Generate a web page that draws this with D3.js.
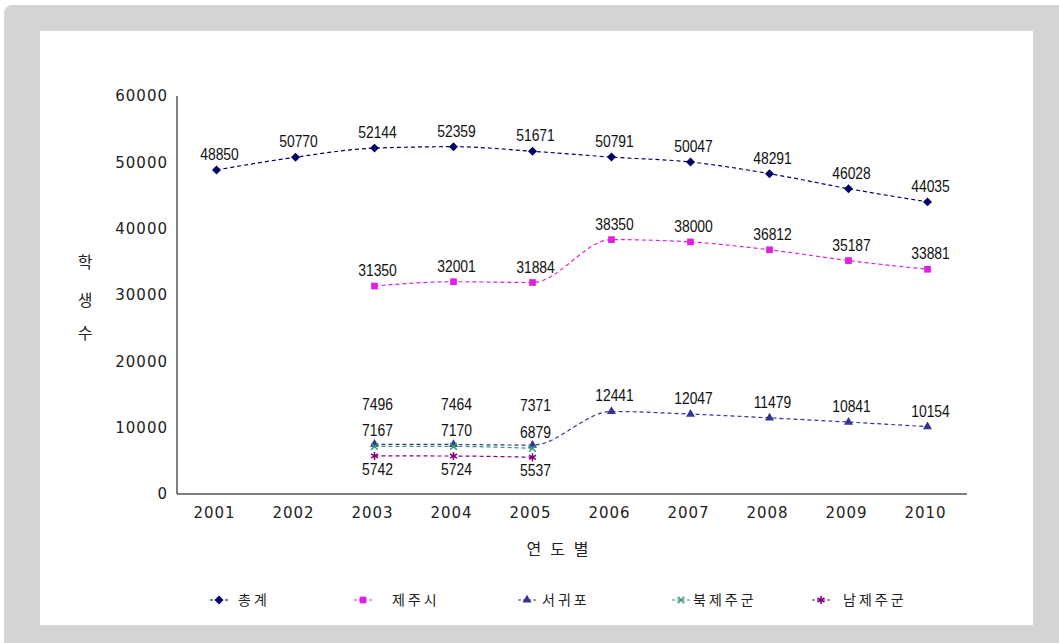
<!DOCTYPE html>
<html>
<head>
<meta charset="utf-8">
<script src="https://cdn.jsdelivr.net/npm/d3@7"></script>
<style>
  html, body { margin:0; padding:0; background:#fff; }
  svg { display:block; }
</style>
</head>
<body>
<div id="chart"></div>
<script>
// 학생수 추이 (연도별) - line chart
const years = ['2001','2002','2003','2004','2005','2006','2007','2008','2009','2010'];
const total    = [48850, 50770, 52144, 52359, 51671, 50791, 50047, 48291, 46028, 44035];
const jejuCity = [null, null, 31350, 32001, 31884, 38350, 38000, 36812, 35187, 33881];
const seogwipo = [null, null, 7496, 7464, 7371, 12441, 12047, 11479, 10841, 10154];
const bukjeju  = [null, null, 7167, 7170, 6879, null, null, null, null, null];
const namjeju  = [null, null, 5742, 5724, 5537, null, null, null, null, null];
const yTicks = [0, 10000, 20000, 30000, 40000, 50000, 60000];
const seriesNames = ['총계', '제주시', '서귀포', '북제주군', '남제주군'];

(function(){
  const W = 1059, H = 643;
  const svg = d3.select('#chart').append('svg')
    .attr('width', W).attr('height', H);

  // frame
  svg.append('rect').attr('x',4).attr('y',5).attr('width',W+20).attr('height',H+20)
    .attr('rx',8).attr('fill','#d4d4d4');
  svg.append('rect').attr('x',40).attr('y',31).attr('width',993).attr('height',594)
    .attr('fill','#fff');

  const x = d3.scaleBand().domain(years).range([177, 967]);
  const cx = d => x(d) + x.bandwidth()/2;
  const y = d3.scaleLinear().domain([0, 60000]).range([494, 96]);

  const tickFont = '"DejaVu Sans", sans-serif';
  const labelFont = '"Liberation Sans", Arial, sans-serif';
  const krFont = '"Noto Sans CJK KR", sans-serif';

  // axes lines
  svg.append('line').attr('x1',177).attr('x2',177).attr('y1',96).attr('y2',494)
    .attr('stroke','#555').attr('stroke-width',1.5);
  svg.append('line').attr('x1',177).attr('x2',967).attr('y1',494).attr('y2',494)
    .attr('stroke','#555').attr('stroke-width',1.5);

  // y tick labels
  svg.append('g').selectAll('text').data(yTicks).join('text')
    .attr('x',168).attr('y',d=>y(d)).attr('dy','0.36em')
    .attr('text-anchor','end')
    .attr('font-family',tickFont).attr('font-size',15)
    .attr('letter-spacing',1)
    .attr('fill','#222')
    .text(d=>d);

  // x tick labels
  svg.append('g').selectAll('text').data(years).join('text')
    .attr('x',d=>cx(d)-2).attr('y',518)
    .attr('text-anchor','middle')
    .attr('font-family',tickFont).attr('font-size',15)
    .attr('letter-spacing',1)
    .attr('fill','#222')
    .text(d=>d);

  // axis titles
  svg.append('text').attr('x',562).attr('y',555)
    .attr('text-anchor','middle')
    .attr('font-family',krFont).attr('font-size',16)
    .attr('letter-spacing',9)
    .attr('fill','#222')
    .text('연도별');
  ['학','생','수'].forEach((c,i)=>{
    svg.append('text').attr('x',85).attr('y',[268,306,339][i])
      .attr('text-anchor','middle')
      .attr('font-family',krFont).attr('font-size',16)
      .attr('fill','#222')
      .text(c);
  });

  // rotated square for the diamond marker
  const diamond = {
    draw(ctx, size){
      const r = Math.sqrt(size/2);
      ctx.moveTo(0,-r); ctx.lineTo(r,0); ctx.lineTo(0,r); ctx.lineTo(-r,0); ctx.closePath();
    }
  };

  const series = [
    {name:seriesNames[0], values:total,    color:'#000066', sym:diamond,          size:40, labelDy:-10},
    {name:seriesNames[1], values:jejuCity, color:'#e020e0', sym:d3.symbolSquare,   size:45, labelDy:-10},
    {name:seriesNames[2], values:seogwipo, color:'#333399', sym:d3.symbolTriangle, size:35, labelDy:-10},
    {name:seriesNames[3], values:bukjeju,  color:'#2e9a6e', sym:d3.symbolTimes || d3.symbolCross, size:30, labelDy:-10, stroke:true},
    {name:seriesNames[4], values:namjeju,  color:'#800080', sym:d3.symbolAsterisk || d3.symbolCross, size:45, labelDy:19, stroke:true}
  ];

  const line = d3.line()
    .defined(d=>d.v!=null)
    .x(d=>cx(d.year)).y(d=>y(d.v))
    .curve(d3.curveMonotoneX);

  series.forEach((s,si)=>{
    const pts = years.map((yr,i)=>({year:yr, v:s.values[i], i}));
    svg.append('path').datum(pts)
      .attr('d',line)
      .attr('fill','none')
      .attr('stroke',s.color)
      .attr('stroke-width',1.2)
      .attr('stroke-dasharray','4,3');

    const valid = pts.filter(d=>d.v!=null);
    const sym = d3.symbol().type(s.sym).size(s.size);
    svg.append('g').selectAll('path').data(valid).join('path')
      .attr('transform',d=>`translate(${cx(d.year)},${y(d.v)})`)
      .attr('d',sym)
      .attr('fill',s.stroke ? 'none' : s.color)
      .attr('stroke',s.stroke ? s.color : 'none')
      .attr('stroke-width',1.5);

    // labels; 서귀포 label goes higher where 북제주군 sits beside it
    svg.append('g').selectAll('text').data(valid).join('text')
      .attr('transform',d=>{
        let dy = s.labelDy;
        if (si===2 && bukjeju[d.i]!=null) dy = -34;
        return `translate(${cx(d.year)+3},${y(d.v)+dy}) scale(0.82,1)`;
      })
      .attr('text-anchor','middle')
      .attr('font-family',labelFont).attr('font-size',17)
      .attr('fill','#111')
      .text(d=>d.v);
  });

  // legend
  const legendPos = [
    {mx:219, tx:238},
    {mx:363, tx:392},
    {mx:527, tx:542},
    {mx:681, tx:693},
    {mx:821, tx:843}
  ];
  const ly = 600;
  series.forEach((s,i)=>{
    const p = legendPos[i];
    svg.append('line').attr('x1',p.mx-9).attr('x2',p.mx+9).attr('y1',ly).attr('y2',ly)
      .attr('stroke',s.color).attr('stroke-width',1.2).attr('stroke-dasharray','3,2');
    svg.append('path')
      .attr('transform',`translate(${p.mx},${ly})`)
      .attr('d',d3.symbol().type(s.sym).size(s.size)())
      .attr('fill',s.stroke ? 'none' : s.color)
      .attr('stroke',s.stroke ? s.color : 'none')
      .attr('stroke-width',1.5);
    svg.append('text').attr('x',p.tx).attr('y',ly).attr('dy','0.36em')
      .attr('font-family',krFont).attr('font-size',14)
      .attr('letter-spacing',3)
      .attr('fill','#222')
      .text(s.name);
  });
})();
</script>
</body>
</html>
